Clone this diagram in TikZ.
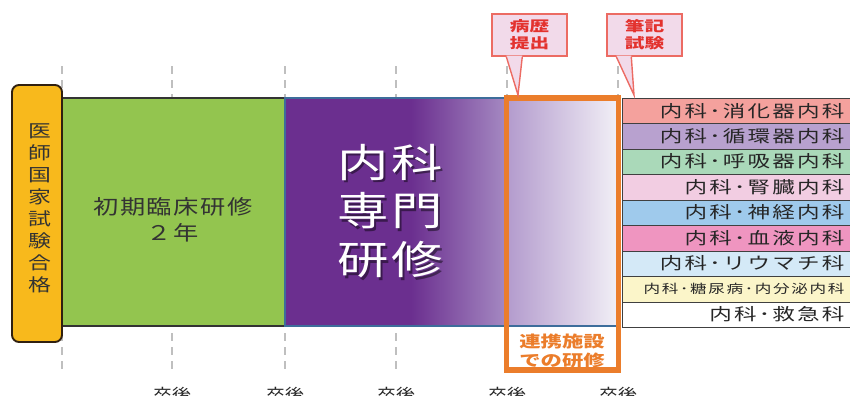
\documentclass[tikz,border=0pt]{standalone}
\usepackage{fontspec}
\newfontfamily\jp{Noto Sans CJK JP}
\newfontfamily\jpsp[LetterSpace=6]{Noto Sans CJK JP}
\newfontfamily\jprow[LetterSpace=10]{Noto Sans CJK JP}
\newfontfamily\jpwide[LetterSpace=5]{Noto Sans CJK JP}
\usetikzlibrary{positioning,shapes.callouts}

\definecolor{kgreen}{HTML}{93C54F}
\definecolor{korange}{HTML}{F8B91C}
\definecolor{kpurple}{HTML}{6B2F8F}
\definecolor{kpurpleB}{HTML}{A68BC3}
\definecolor{kpurpleC}{HTML}{B39BCD}
\definecolor{kpurpleD}{HTML}{F3F1F7}
\definecolor{kblue}{HTML}{3D6D9B}
\definecolor{kframe}{HTML}{EB7D2B}
\definecolor{kguide}{HTML}{BFBFBF}
\definecolor{callfill}{HTML}{F2DAEA}
\definecolor{callline}{HTML}{EC6B63}
\definecolor{calltext}{HTML}{E3322E}
\definecolor{rowA}{HTML}{F4A19D}
\definecolor{rowB}{HTML}{B8A1CF}
\definecolor{rowC}{HTML}{AAD9B9}
\definecolor{rowD}{HTML}{F2CDE2}
\definecolor{rowE}{HTML}{9FCAEC}
\definecolor{rowF}{HTML}{EF95C0}
\definecolor{rowG}{HTML}{D4E9F7}
\definecolor{rowH}{HTML}{FBF5C9}
\definecolor{rowI}{HTML}{FFFFFF}

\tikzset{
  guide/.style={draw=kguide,line width=1.7pt,dash pattern=on 4.5pt off 3.5pt},
  rowbox/.style={draw=black!75,line width=0.6pt,anchor=north west,
    minimum width=4.8cm,minimum height=0.5088cm,inner sep=0pt},
  rowtext/.style={anchor=east,inner sep=0pt,xscale=1.35,text=black!85},
  callbox/.style={draw=callline,fill=callfill,line width=0.8pt,
    minimum width=1.5cm,minimum height=0.84cm,inner sep=0pt,align=center,
    text=calltext,font=\jp\bfseries\fontsize{8}{9.6}\selectfont},
  grad/.style={font=\jpwide\fontsize{22.5}{27.8}\selectfont,align=center,
    inner sep=0pt,xscale=1.3}
}

\begin{document}
\begin{tikzpicture}[x=0.02cm,y=-0.02cm]
\useasboundingbox (0,0) rectangle (850,396);

% guides
\foreach \gx in {62,172,285,396,507,618}
  \draw[guide] (\gx,66) -- (\gx,375);

% initial training
\fill[kgreen] (62,98) rectangle (285,326);
\draw[black!80,line width=0.8pt] (62,98) -- (285,98) (62,326) -- (285,326);
\node[inner sep=0pt,align=center,xscale=1.25,
  font=\jpsp\fontsize{11.5}{14.7}\selectfont,text=black!80] (init) at (173,220)
  {初期臨床研修\\２年};

% internal medicine
\fill[kpurple] (285,98) rectangle (412,326);
\shade[left color=kpurple,right color=kpurpleB] (411,98) rectangle (508,326);
\shade[left color=kpurpleC,right color=kpurpleD] (507,98) rectangle (620,326);
\draw[kblue,line width=1.6pt] (620,98) -- (285,98) -- (285,326) -- (620,326);
\node[grad,text=black,opacity=0.45] at (392.5,213.5) {内科\\専門\\研修};
\node[grad,text=white] (senmon) at (390,211) {内科\\専門\\研修};

% license box
\draw[draw=black!75!brown,fill=korange,line width=1.1pt,rounded corners=4pt]
  (12,85) rectangle (62,342);
\node[inner sep=0pt,align=center,xscale=1.3,text=black!80,
  font=\jp\fontsize{10}{12.5}\selectfont] (license) at (40,208)
  {医\\師\\国\\家\\試\\験\\合\\格};

% affiliated facility
\draw[kframe,line width=3.4pt] (506.5,98) rectangle (618.5,370);
\node[inner sep=0pt,align=center,xscale=1.35,text=kframe,
  font=\jp\bfseries\fontsize{9}{11.3}\selectfont] (renkei) at (562,351)
  {連携施設\\での研修};

% specialties
\foreach \c/\t/\s [count=\i from 0] in {
  rowA/内科･消化器内科/9.5, rowB/内科･循環器内科/9.5,
  rowC/内科･呼吸器内科/9.5, rowD/内科･腎臓内科/9.5,
  rowE/内科･神経内科/9.5, rowF/内科･血液内科/9.5,
  rowG/内科･リウマチ科/9.5, rowH/内科･糖尿病･内分泌内科/7,
  rowI/内科･救急科/9.5}
{
  \node[rowbox,fill=\c] (row\i) at (622,{98+\i*25.44}) {};
  \node[rowtext,font=\jprow\fontsize{\s}{\s}\selectfont] (lab\i)
    at (845,{110.7+\i*25.44}) {\t};
}

% callouts
\coordinate (tipA) at (518,95);
\coordinate (tipB) at (634,95);
\node[callbox] (byoreki) at (529.5,35) {\scalebox{1.4}[1]{病歴}\\\scalebox{1.4}[1]{提出}};
\node[callbox] (hikki) at (644.5,35) {\scalebox{1.4}[1]{筆記}\\\scalebox{1.4}[1]{試験}};
\fill[callfill] ([xshift=0.3cm,yshift=0.02cm]byoreki.south west) -- (tipA)
  -- ([xshift=0.62cm,yshift=0.02cm]byoreki.south west) -- cycle;
\draw[callline,line width=0.8pt] ([xshift=0.3cm]byoreki.south west) -- (tipA)
  -- ([xshift=0.62cm]byoreki.south west);
\fill[callfill] ([xshift=0.2cm,yshift=0.02cm]hikki.south west) -- (tipB)
  -- ([xshift=0.5cm,yshift=0.02cm]hikki.south west) -- cycle;
\draw[callline,line width=0.8pt] ([xshift=0.2cm]hikki.south west) -- (tipB)
  -- ([xshift=0.5cm]hikki.south west);

% years
\foreach \gx [count=\k] in {172,285,396,507,618}
  \node[anchor=north,inner sep=0pt,xscale=1.2,text=black!85,
    font=\jp\fontsize{9}{9}\selectfont] (year\k) at (\gx,387) {卒後};
\end{tikzpicture}
\end{document}
